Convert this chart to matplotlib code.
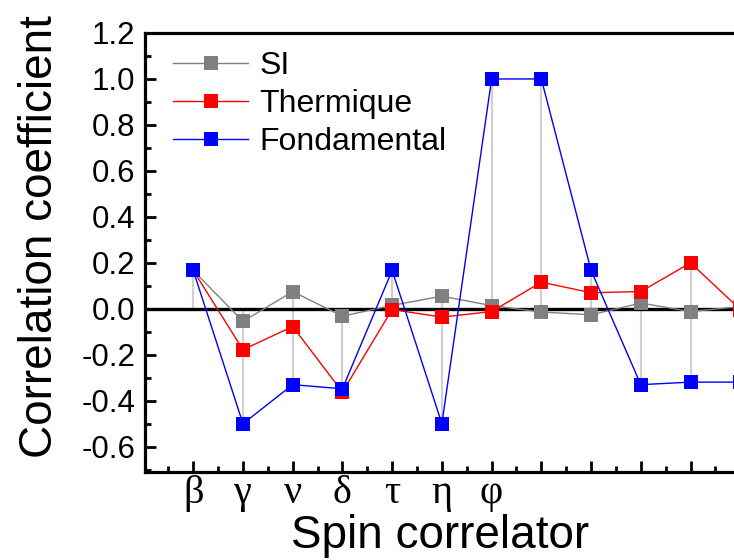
import matplotlib
matplotlib.use('Agg')
import matplotlib.pyplot as plt
import numpy as np

plt.rcParams['font.family'] = ['Liberation Sans', 'DejaVu Sans']
plt.rcParams['axes.unicode_minus'] = False

# spin correlators (only the first seven carry a label)
positions = list(range(1, 13))
tick_labels = ['β', 'γ', 'ν', 'δ', 'τ', 'η', 'φ', '', '', '', '', '']

si = [0.167, -0.055, 0.075, -0.032, 0.015, 0.055, 0.014, -0.014, -0.026, 0.025, -0.012, 0.010]
thermique = [0.167, -0.178, -0.077, -0.362, -0.003, -0.036, -0.012, 0.116, 0.070, 0.075, 0.200, -0.003]
fondamental = [0.167, -0.500, -0.330, -0.348, 0.167, -0.500, 1.000, 1.000, 0.167, -0.330, -0.319, -0.319]

fig = plt.figure(figsize=(7.34, 5.6), dpi=100)
# axes runs past the right edge of the figure, like the cropped original
ax = fig.add_axes([145 / 734, 88 / 560, 645 / 734, 439 / 560])

# light grey drop lines spanning all three series and zero
allv = np.array([si, thermique, fondamental])
lo = np.minimum(allv.min(axis=0), 0)
hi = np.maximum(allv.max(axis=0), 0)
ax.vlines(positions, lo, hi, color='#d0d0d0', lw=1.6, zorder=1)
ax.axhline(0, color='black', lw=2.4, zorder=1.5)

ax.plot(positions, si, '-s', color='#808080', lw=1, ms=9.5, mew=0, label='SI', zorder=2)
ax.plot(positions, thermique, '-s', color='#ff0000', lw=1, ms=9.5, mew=0, label='Thermique', zorder=2.1)
ax.plot(positions, fondamental, '-s', color='#0000ff', lw=1, ms=9.5, mew=0, label='Fondamental', zorder=2.2)

ax.set_xlim(0.03, 13)
ax.set_ylim(-0.71, 1.2)
ax.set_yticks(np.arange(-0.6, 1.21, 0.2))
ax.set_yticks(np.arange(-0.7, 1.21, 0.1), minor=True)
ax.set_yticklabels([f'{v:.1f}' for v in np.arange(-0.6, 1.21, 0.2)], fontsize=22.5)
ax.set_xticks(positions)
ax.set_xticks(np.arange(0.5, 13, 1), minor=True)
ax.set_xticklabels(tick_labels, fontsize=29, family=['Liberation Serif', 'DejaVu Serif'])

ax.tick_params(which='both', direction='in', width=2, top=False, right=False)
ax.tick_params(which='major', length=8)
ax.tick_params(which='minor', length=4.5)
ax.tick_params(axis='y', pad=7)
ax.tick_params(axis='x', pad=2)
for s in ax.spines.values():
    s.set_linewidth(2.3)

fig.text(40 / 734, 1 - 237 / 560, 'Correlation coefficient', rotation=90,
         ha='center', va='center', fontsize=33)
fig.text(440 / 734, 1 - 548 / 560, 'Spin correlator', ha='center', va='baseline', fontsize=33)

ax.legend(loc='upper left', bbox_to_anchor=(28 / 645, 1 - 18 / 439), frameon=False,
          fontsize=23, handlelength=2.35, handletextpad=0.35, labelspacing=0.25,
          borderpad=0, borderaxespad=0)

fig.savefig('out.png', dpi=100)
